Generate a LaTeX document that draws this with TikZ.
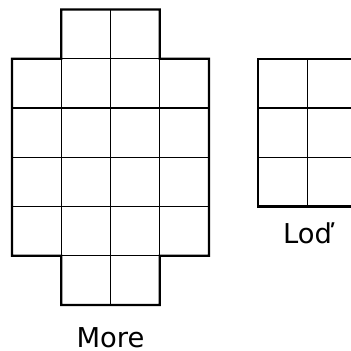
\documentclass[tikz,border=0pt]{standalone}
\usepackage{fontspec}
\setmainfont{DejaVu Sans}
\usetikzlibrary{positioning}

\tikzset{
  cell/.style={draw,minimum height=1cm,minimum width=1cm,inner sep=0pt,outer sep=0pt,line width=0.7pt},
  rim/.style={line width=1.2pt,line join=miter},
  caption/.style={anchor=base,font=\fontsize{15.8}{19}\selectfont}
}

\begin{document}
\begin{tikzpicture}
\useasboundingbox (-0.244,-0.934) rectangle (6.863,6.193);
% cells of the cross
\foreach \r/\c in {0/1,0/2,1/0,1/1,1/2,1/3,2/0,2/1,2/2,2/3,3/0,3/1,3/2,3/3,4/0,4/1,4/2,4/3,5/1,5/2}
  \node[cell] (M\r\c) at (\c+0.5,\r+0.5) {};
% cells of the block
\foreach \r in {2,3,4}
  \foreach \c in {5,6}
    \node[cell] (L\r\c) at (\c+0.5,\r+0.5) {};

\draw[rim] (M01.south west) -- (M02.south east) -- (M13.south west) -- (M13.south east)
  -- (M43.north east) -- (M43.north west) -- (M52.north east) -- (M51.north west)
  -- (M51.south west) -- (M40.north west) -- (M10.south west) -- (M10.south east) -- cycle;
\draw[rim] (L25.south west) rectangle (L46.north east);

\node[caption] (more) at (2,-0.853) {More};
\node[caption] (lod) at (6,1.24) {Loď};
\end{tikzpicture}
\end{document}
